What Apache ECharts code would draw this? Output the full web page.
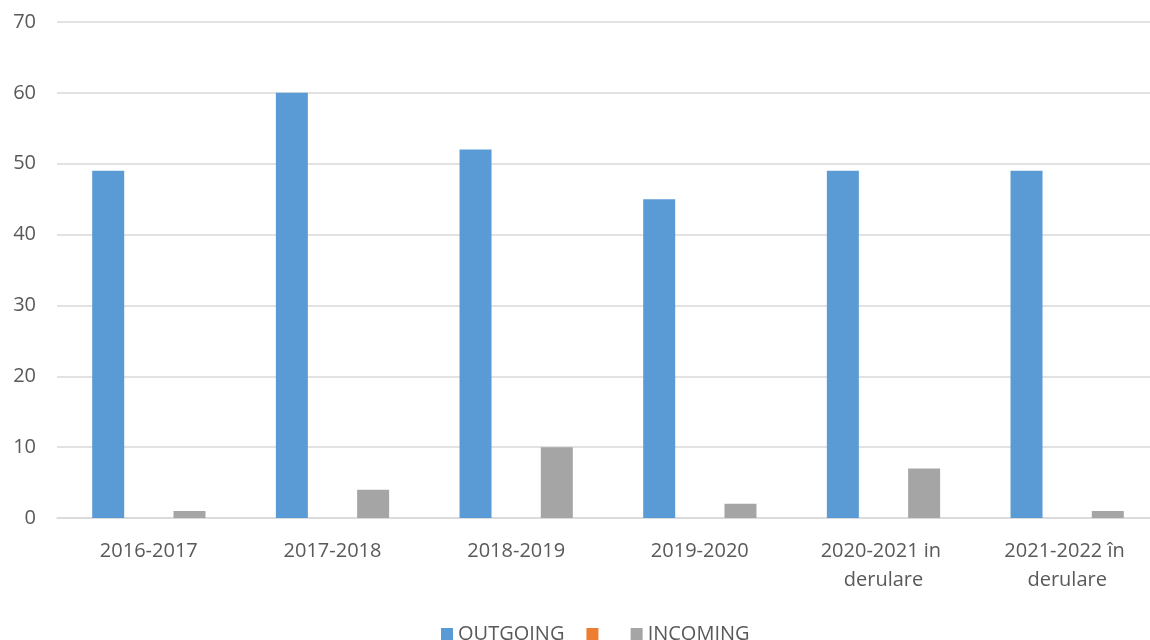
<!DOCTYPE html>
<html>
<head>
<meta charset="utf-8">
<script src="https://cdn.jsdelivr.net/npm/echarts@6/dist/echarts.min.js"></script>
<style>html,body{margin:0;padding:0;background:#fff}#c{width:1150px;height:640px}</style>
</head>
<body>
<div id="c"></div>
<script>
const categories = ['2016-2017', '2017-2018', '2018-2019', '2019-2020', '2020-2021 in derulare', '2021-2022 în derulare'];
const outgoing = [49, 60, 52, 45, 49, 49];
const unnamed = [null, null, null, null, null, null];
const incoming = [1, 4, 10, 2, 7, 1];
const yTicks = { min: 0, max: 70, interval: 10 };

const font = 'Open Sans, Noto Sans, sans-serif';
const chart = echarts.init(document.getElementById('c'), null, { renderer: 'canvas' });
chart.setOption({
  animation: false,
  textStyle: { fontFamily: font },
  grid: { left: 57, width: 1102, top: 22, height: 496, containLabel: false, outerBoundsMode: 'none' },
  legend: {
    top: 619, left: 436,
    icon: 'rect', itemWidth: 12, itemHeight: 12, itemGap: 22,
    textStyle: { fontSize: 20, color: '#595959', fontFamily: font },
    data: ['OUTGOING', ' ', 'INCOMING']
  },
  xAxis: {
    type: 'category', data: categories,
    axisLine: { lineStyle: { color: '#D9D9D9', width: 1.5 } },
    axisTick: { show: false },
    axisLabel: { fontSize: 20, color: '#595959', margin: 19, width: 175, overflow: 'break', lineHeight: 29, interval: 0, fontFamily: font }
  },
  yAxis: {
    type: 'value', min: yTicks.min, max: yTicks.max, interval: yTicks.interval,
    axisLine: { show: false }, axisTick: { show: false },
    axisLabel: { fontSize: 20, color: '#595959', margin: 21, fontFamily: font },
    splitLine: { lineStyle: { color: '#D9D9D9', width: 1.5 } }
  },
  series: [
    { name: 'OUTGOING', type: 'bar', data: outgoing, barWidth: 32, barGap: '27%', itemStyle: { color: '#5B9BD5' } },
    { name: ' ', type: 'bar', data: unnamed, barWidth: 32, barGap: '27%', itemStyle: { color: '#ED7D31' } },
    { name: 'INCOMING', type: 'bar', data: incoming, barWidth: 32, barGap: '27%', itemStyle: { color: '#A5A5A5' } }
  ]
});
</script>
</body>
</html>
